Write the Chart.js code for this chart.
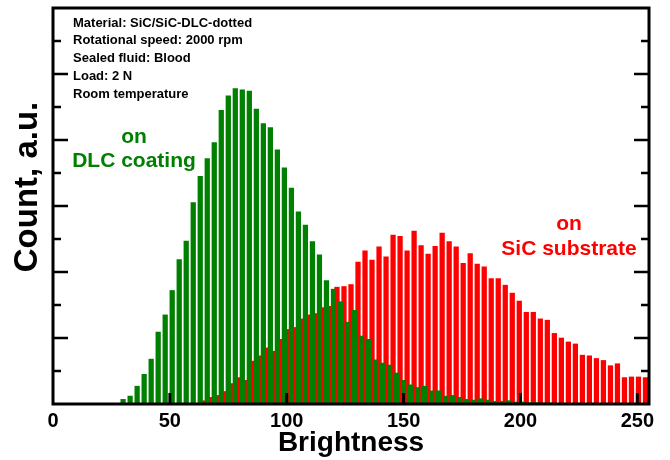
<!DOCTYPE html>
<html><head><meta charset="utf-8">
<script src="https://cdn.jsdelivr.net/npm/chart.js@4"></script>
<style>html,body{margin:0;padding:0;background:#fff}#wrap{width:670px;height:460px}</style>
</head><body><div id="wrap"><canvas id="c" width="670" height="460"></canvas></div>
<script>
// ---- data ----
const dlcBrightness = [30,33,36,39,42,45,48,51,54,57,60,63,66,69,72,75,78,81,84,87,90,93,96,99,102,105,108,111,114,117,120,123,126,129,132,135,138,141,144,147,150,153,156,159,162,165,168,171,174,177,180,183,186,189,192,195,198,201,204,207,210,213,216];
const dlcCounts = [0.07,0.12,0.27,0.45,0.68,1.09,1.35,1.72,2.19,2.47,3.05,3.45,3.72,3.96,4.45,4.67,4.78,4.76,4.74,4.47,4.25,4.19,3.85,3.58,3.27,2.91,2.71,2.46,2.26,1.87,1.74,1.55,1.24,1.42,1.03,0.98,0.67,0.62,0.59,0.47,0.36,0.29,0.25,0.27,0.20,0.20,0.12,0.13,0.10,0.07,0.06,0.08,0.06,0.04,0.04,0.05,0.03,0.03,0.02,0.02,0.015,0.015,0.01];
const sicBrightness = [64.5,67.5,70.5,73.5,76.5,79.5,82.5,85.5,88.5,91.5,94.5,97.5,100.5,103.5,106.5,109.5,112.5,115.5,118.5,121.5,124.5,127.5,130.5,133.5,136.5,139.5,142.5,145.5,148.5,151.5,154.5,157.5,160.5,163.5,166.5,169.5,172.5,175.5,178.5,181.5,184.5,187.5,190.5,193.5,196.5,199.5,202.5,205.5,208.5,211.5,214.5,217.5,220.5,223.5,226.5,229.5,232.5,235.5,238.5,241.5,244.5,247.5,250.5,253.5];
const sicCounts = [0.05,0.10,0.13,0.19,0.31,0.40,0.36,0.65,0.73,0.85,0.80,0.98,1.13,1.16,1.29,1.35,1.37,1.46,1.48,1.77,1.78,1.81,2.15,2.32,2.18,2.38,2.23,2.56,2.54,2.32,2.62,2.40,2.27,2.39,2.59,2.46,2.38,2.13,2.28,2.12,2.08,1.90,1.90,1.80,1.68,1.56,1.39,1.39,1.29,1.27,1.07,1.00,0.94,0.91,0.74,0.73,0.69,0.66,0.58,0.61,0.40,0.41,0.41,0.40];
const xTickValues = [0,50,100,150,200,250];
const yTickValues = [0.5,1,1.5,2,2.5,3,3.5,4,4.5,5,5.5];
const infoLines = ['Material: SiC/SiC-DLC-dotted','Rotational speed: 2000 rpm','Sealed fluid: Blood','Load: 2 N','Room temperature'];
const dlcLabel = ['on','DLC coating'];
const sicLabel = ['on','SiC substrate'];
const xTitle = 'Brightness';
const yTitle = 'Count, a.u.';

// ---- chart ----
const FONT = "'Liberation Sans', Arial, sans-serif";
const GREEN = '#008000', RED = '#ff0000';

const decor = {
  id: 'decor',
  afterDatasetsDraw(chart) {
    const {ctx, chartArea: a, scales: {x, y}} = chart;
    ctx.save();
    ctx.fillStyle = '#000';
    xTickValues.forEach(v => {
      if (v <= x.min || v >= x.max) return;
      const px = x.getPixelForValue(v);
      ctx.fillRect(px - 1.5, a.bottom - 11, 3, 11);
    });
    ctx.strokeStyle = '#000';
    ctx.lineWidth = 2.5;
    yTickValues.forEach(v => {
      const py = Math.round(y.getPixelForValue(v));
      const len = Number.isInteger(v) ? 15 : 8;
      ctx.beginPath();
      ctx.moveTo(a.left, py); ctx.lineTo(a.left + len, py);
      ctx.moveTo(a.right, py); ctx.lineTo(a.right - len, py);
      ctx.stroke();
    });
    ctx.lineWidth = 3;
    ctx.strokeRect(a.left, a.top, a.right - a.left, a.bottom - a.top);
    ctx.fillStyle = '#000';
    ctx.font = 'bold 13px ' + FONT;
    ctx.textAlign = 'left';
    ctx.textBaseline = 'middle';
    infoLines.forEach((t, i) => ctx.fillText(t, a.left + 20, a.top + 15 + 17.9 * i));
    // y axis title
    ctx.save();
    ctx.translate(28, 187);
    ctx.rotate(-Math.PI / 2);
    ctx.font = 'bold 33px ' + FONT;
    ctx.textAlign = 'center';
    ctx.fillText(yTitle, 0, 0);
    ctx.restore();
    ctx.font = 'bold 21px ' + FONT;
    ctx.textAlign = 'center';
    ctx.fillStyle = GREEN;
    dlcLabel.forEach((t, i) => ctx.fillText(t, 134, 137 + 24.5 * i));
    ctx.fillStyle = RED;
    sicLabel.forEach((t, i) => ctx.fillText(t, 569, 224 + 25 * i));
    ctx.restore();
  }
};

new Chart(document.getElementById('c'), {
  type: 'bar',
  data: {
    datasets: [
      {label: 'on DLC coating', data: dlcBrightness.map((b, i) => ({x: b, y: dlcCounts[i]})),
       backgroundColor: GREEN, borderWidth: 0, barThickness: 4.6, grouped: false},
      {label: 'on SiC substrate', data: sicBrightness.map((b, i) => ({x: b, y: sicCounts[i]})),
       backgroundColor: RED, borderWidth: 0, barThickness: 4.6, grouped: false}
    ]
  },
  options: {
    responsive: false,
    animation: false,
    devicePixelRatio: 1,
    layout: {padding: {top: 8, right: 21, left: 0, bottom: 0}},
    plugins: {legend: {display: false}, tooltip: {enabled: false}},
    scales: {
      x: {
        type: 'linear', min: 0, max: 255, offset: false,
        grid: {display: false, offset: false}, border: {display: false},
        afterBuildTicks: s => { s.ticks = xTickValues.map(v => ({value: v})); },
        ticks: {color: '#000', font: {family: FONT, size: 20, weight: 'bold'}, padding: -3, maxRotation: 0, autoSkip: false},
        title: {display: true, text: xTitle, color: '#000', font: {family: FONT, size: 28, weight: 'bold', lineHeight: 1}, padding: {top: 0, bottom: 3}},
        afterFit: s => { s.height = 56; }
      },
      y: {
        type: 'linear', min: 0, max: 6,
        grid: {display: false}, border: {display: false}, ticks: {display: false},
        title: {display: false},
        afterFit: s => { s.width = 53; }
      }
    }
  },
  plugins: [decor]
});
</script>
</body></html>
